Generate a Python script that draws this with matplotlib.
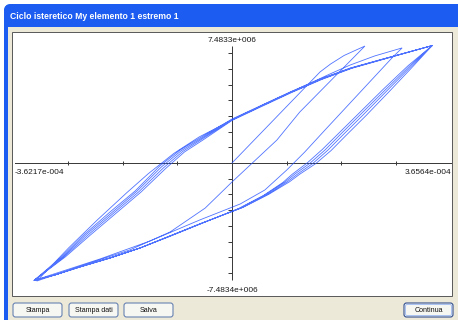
import numpy as np
import matplotlib
matplotlib.use("Agg")
import matplotlib.pyplot as plt
from matplotlib.patches import Rectangle, FancyBboxPatch
from matplotlib.colors import LinearSegmentedColormap
from matplotlib.markers import TICKLEFT

W, H, DPI = 458, 320, 100
PT = 72 / DPI          # points per pixel

CURV = 1e-4            # curvature unit of the lists below
MOM = 1e6              # moment unit of the lists below

TITLE = "Ciclo isteretico My elemento 1 estremo 1"
BUTTONS = ["Stampa", "Stampa dati", "Salva", "Continua"]

# axis end values
curv_min, curv_max = -3.6217e-4, 3.6564e-4
mom_min, mom_max = -7.4834e6, 7.4833e6

# first loading from the unloaded state
curv_load0 = [0.00, 0.62, 1.24, 1.61, 1.80, 2.05, 2.43]
mom_load0 = [0.00, 2.23, 4.47, 5.80, 6.30, 6.85, 7.45]

# unloading from the first peak
curv_unload1 = [2.43, 1.24, 0.82, 0.00, -0.49, -1.13, -1.87, -2.60, -3.14, -3.57]
mom_unload1 = [7.45, 3.25, 1.46, -1.21, -2.87, -4.39, -5.54, -6.37, -7.01, -7.52]

# reloading to the second peak
curv_load2 = [-3.57, -2.99, -2.46, -1.92, -1.53, -1.06, -0.60, 0.00, 0.60, 1.24, 1.79, 2.16, 2.61, 3.11]
mom_load2 = [-7.52, -5.42, -3.62, -1.88, -0.68, 0.62, 1.66, 2.74, 3.76, 4.78, 5.67, 6.24, 6.82, 7.33]

# unloading from the second peak
curv_unload2 = [3.11, 2.94, 1.70, 1.33, 1.00, 0.60, 0.15, -0.59, -1.50, -2.41, -3.14, -3.60]
mom_unload2 = [7.33, 6.75, 2.10, 0.70, -0.45, -1.72, -2.61, -3.63, -4.97, -6.11, -6.94, -7.47]

# full cycles: loading branches
curv_up_a = [-3.62, -3.14, -2.69, -2.23, -1.77, -1.32, -0.95, -0.59, 0.00, 0.51, 1.06, 1.61, 2.16, 2.89, 3.66]
mom_up_a = [-7.48, -6.05, -4.52, -3.12, -1.78, -0.19, 0.83, 1.59, 2.80, 3.63, 4.52, 5.35, 6.05, 6.75, 7.48]
curv_up_b = [-3.61, -3.11, -2.66, -2.19, -1.74, -1.29, -0.93, -0.57, 0.00, 0.52, 1.07, 1.62, 2.17, 2.90, 3.66]
mom_up_b = [-7.47, -6.03, -4.54, -3.14, -1.80, -0.25, 0.78, 1.55, 2.77, 3.61, 4.51, 5.34, 6.04, 6.75, 7.48]
curv_up_c = [-3.61, -3.08, -2.62, -2.15, -1.70, -1.25, -0.90, -0.55, 0.00, 0.52, 1.08, 1.63, 2.18, 2.90, 3.66]
mom_up_c = [-7.46, -6.00, -4.55, -3.15, -1.82, -0.30, 0.74, 1.52, 2.74, 3.60, 4.50, 5.33, 6.04, 6.75, 7.48]
curv_up_d = [-3.62, -3.05, -2.58, -2.11, -1.66, -1.21, -0.87, -0.52, 0.00, 0.53, 1.09, 1.64, 2.19, 2.91, 3.66]
mom_up_d = [-7.48, -5.99, -4.56, -3.17, -1.84, -0.34, 0.70, 1.49, 2.71, 3.58, 4.49, 5.32, 6.03, 6.74, 7.48]

# full cycles: unloading branches
curv_dn_a = [3.66, 3.25, 2.80, 2.34, 1.97, 1.70, 1.43, 1.15, 0.97, 0.60, 0.15, -0.59, -1.13, -1.68, -2.23, -2.78, -3.24, -3.62]
mom_dn_a = [7.48, 6.18, 4.65, 3.06, 1.78, 0.83, 0.00, -0.70, -1.21, -2.04, -2.87, -3.89, -4.65, -5.41, -6.05, -6.62, -7.13, -7.48]
curv_dn_b = [3.66, 3.28, 2.84, 2.39, 2.02, 1.75, 1.48, 1.20, 1.01, 0.64, 0.18, -0.58, -1.12, -1.67, -2.22, -2.77, -3.23, -3.60]
mom_dn_b = [7.48, 6.17, 4.63, 3.04, 1.76, 0.81, -0.02, -0.70, -1.20, -2.02, -2.85, -3.87, -4.63, -5.40, -6.04, -6.61, -7.12, -7.46]
curv_dn_c = [3.66, 3.31, 2.89, 2.45, 2.08, 1.81, 1.53, 1.24, 1.05, 0.67, 0.20, -0.57, -1.11, -1.66, -2.22, -2.77, -3.23, -3.61]
mom_dn_c = [7.48, 6.16, 4.61, 3.02, 1.74, 0.79, -0.04, -0.71, -1.20, -2.00, -2.83, -3.85, -4.61, -5.38, -6.03, -6.60, -7.12, -7.47]
curv_dn_d = [3.66, 3.22, 2.76, 2.30, 1.93, 1.65, 1.38, 1.10, 0.93, 0.57, 0.12, -0.60, -1.14, -1.69, -2.24, -2.79, -3.24, -3.62]
mom_dn_d = [7.48, 6.20, 4.68, 3.10, 1.82, 0.86, 0.02, -0.72, -1.24, -2.08, -2.90, -3.92, -4.68, -5.43, -6.07, -6.64, -7.14, -7.48]

curv_path = np.concatenate([curv_load0, curv_unload1, curv_load2, curv_unload2,
                            curv_up_a, curv_dn_a, curv_up_b, curv_dn_b,
                            curv_up_c, curv_dn_c, curv_up_d, curv_dn_d]) * CURV
mom_path = np.concatenate([mom_load0, mom_unload1, mom_load2, mom_unload2,
                           mom_up_a, mom_dn_a, mom_up_b, mom_dn_b,
                           mom_up_c, mom_dn_c, mom_up_d, mom_dn_d]) * MOM


def win_sci(v):
    mant, exp = f"{v:.4e}".split("e")
    return f"{mant}e{int(exp):+04d}"


plt.rcParams["font.family"] = ["Liberation Sans", "DejaVu Sans"]

fig = plt.figure(figsize=(W / DPI, H / DPI), dpi=DPI, facecolor="white")

# ---- dialog window chrome (pixel coordinates) ----
bg = fig.add_axes([0, 0, 1, 1])
bg.set_xlim(0, W)
bg.set_ylim(H, 0)
bg.axis("off")

frame = FancyBboxPatch((4, 4), W + 10, H + 10, boxstyle="round,pad=0,rounding_size=7",
                       facecolor="#1c5cf0", edgecolor="none")
bg.add_patch(frame)
bar_cmap = LinearSegmentedColormap.from_list(
    "bar", ["#4a95ff", "#2468f4", "#0d58ea", "#0a55e4", "#0b50d8"])
grad = np.linspace(0, 1, 32).reshape(-1, 1)
bar = bg.imshow(grad, cmap=bar_cmap, extent=(4, W + 10, 27, 4), aspect="auto",
                interpolation="bilinear")
bar.set_clip_path(frame)
bg.add_patch(Rectangle((7.5, 27), W, H, facecolor="#ece9d8", edgecolor="none"))
bg.text(10, 16.5, TITLE, color="white", fontweight="bold", fontsize=8.6 * PT,
        va="center", ha="left")

# plot panel
bg.add_patch(Rectangle((12, 32), 440, 264, facecolor="white",
                       edgecolor="#5c5c5c", lw=PT))

# buttons
btn_x = [(13, 62), (69, 118), (124, 173), (404, 453)]
for label, (x0, x1) in zip(BUTTONS, btn_x):
    default = label == "Continua"
    bg.add_patch(FancyBboxPatch((x0, 303), x1 - x0, 14,
                                boxstyle="round,pad=0,rounding_size=2.5",
                                facecolor="#f6f6f3",
                                edgecolor="#1f3f86" if default else "#5a78ad",
                                lw=PT))
    if default:
        bg.add_patch(FancyBboxPatch((x0 + 1.5, 304.5), x1 - x0 - 3, 11,
                                    boxstyle="round,pad=0,rounding_size=1.5",
                                    facecolor="none", edgecolor="#a9c2f0", lw=PT))
    bg.text((x0 + x1) / 2, 310.5, label, fontsize=7.2 * PT, color="#111111",
            ha="center", va="center")

# ---- hysteresis plot ----
ox, oy = 232, 163                 # pixel position of the origin
px_curv, px_mom = 54.7 / CURV, 15.7 / MOM
ax = fig.add_axes([12 / W, (H - 296) / H, 440 / W, 264 / H])
ax.set_xlim((12 - ox) / px_curv, (452 - ox) / px_curv)
ax.set_ylim(-(296 - oy) / px_mom, (oy - 32) / px_mom)
ax.axis("off")
ax.patch.set_alpha(0)

AXIS = "#3c3c3c"
ax.axhline(0, xmin=3 / 440, xmax=1, color=AXIS, lw=PT)
ax.vlines(0, mom_min, mom_max, color=AXIS, lw=PT)

xt = np.array([-3, -2, -1, 1, 2, 3]) * CURV
ax.plot(xt, np.zeros_like(xt), ls="none", marker="|", ms=4 * PT, mew=PT, color=AXIS)
yt = np.array([-7, -6, -5, -4, -3, -2, -1, 1, 2, 3, 4, 5, 6, 7]) * MOM
ax.plot(np.zeros_like(yt), yt, ls="none", marker=TICKLEFT, ms=4 * PT, mew=PT, color=AXIS)

ax.plot(curv_path, mom_path, color="#2450ff", lw=0.6, alpha=0.8, solid_joinstyle="miter")

lbl = dict(fontsize=8.3 * PT, color="#1a1a1a", textcoords="offset points", va="baseline")
ax.annotate(win_sci(mom_max), (0, mom_max), xytext=(0, 3.5 * PT), ha="center", **lbl)
ax.annotate(win_sci(mom_min), (0, mom_min), xytext=(0, -11.5 * PT), ha="center", **lbl)
ax.annotate(win_sci(curv_min), (3 / 440, 0), xycoords=("axes fraction", "data"),
            xytext=(0, -11 * PT), ha="left", **lbl)
ax.annotate(win_sci(curv_max), (1, 0), xycoords=("axes fraction", "data"),
            xytext=(-1 * PT, -11 * PT), ha="right", **lbl)

fig.savefig("out.png", dpi=DPI, facecolor=fig.get_facecolor())
